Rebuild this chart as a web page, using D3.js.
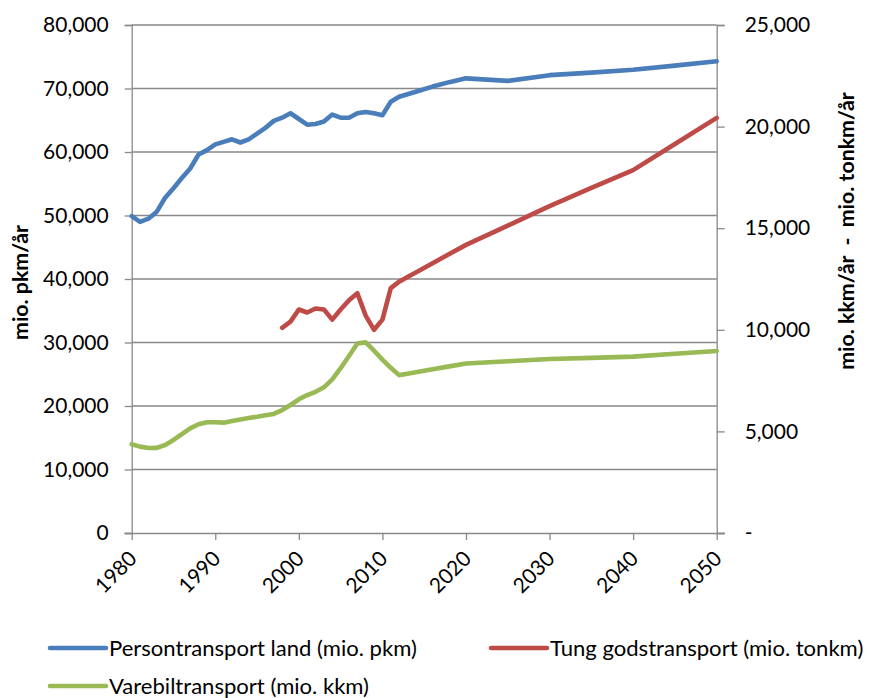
<!DOCTYPE html>
<html>
<head>
<meta charset="utf-8">
<script src="https://cdn.jsdelivr.net/npm/d3@7"></script>
<style>
  html, body { margin: 0; padding: 0; background: #fff; }
  svg { display: block; }
  text { font-family: Lato, "Open Sans", sans-serif; fill: #000; }
</style>
</head>
<body>
<svg id="chart" width="874" height="698"></svg>
<script>
// ---- data ----
const years = [1980,1981,1982,1983,1984,1985,1986,1987,1988,1989,
               1990,1991,1992,1993,1994,1995,1996,1997,1998,1999,
               2000,2001,2002,2003,2004,2005,2006,2007,2008,2009,
               2010,2011,2012,2013,2014,2016,2018,2020,2025,2030,
               2035,2040,2045,2050];

// left axis (mio. pkm)
const personValues = [49900,49000,49500,50600,52800,54300,55900,57400,59600,60300,
                      61200,61600,62000,61500,62000,62900,63800,64900,65400,66100,
                      65200,64300,64400,64800,65900,65400,65400,66100,66300,66100,
                      65800,67900,68700,69100,69500,70300,71000,71600,71200,72100,
                      72500,72950,73600,74300];

// right axis (mio. tonkm)
const godsValues = [null,null,null,null,null,null,null,null,null,null,
                    null,null,null,null,null,null,null,null,10100,10400,
                    11000,10850,11050,11000,10500,11000,11450,11800,10700,10000,
                    10500,12050,12370,12600,12820,13270,13730,14180,15130,16090,
                    16980,17860,19140,20430];

// right axis (mio. kkm)
const vareValues = [4370,4250,4180,4190,4330,4580,4870,5150,5350,5450,
                    5450,5430,5510,5590,5660,5720,5790,5860,6050,6300,
                    6580,6790,6950,7170,7560,8110,8710,9330,9380,8970,
                    8530,8130,7770,7840,7910,8060,8200,8340,8450,8560,
                    8620,8680,8820,8960];

const xTicks = [1980,1990,2000,2010,2020,2030,2040,2050];
const leftTicks = [0,10000,20000,30000,40000,50000,60000,70000,80000];
const rightTicks = [0,5000,10000,15000,20000,25000];

const seriesNames = ["Persontransport land (mio. pkm)",
                     "Tung godstransport (mio. tonkm)",
                     "Varebiltransport (mio. kkm)"];
const seriesColors = ["#4A7EBB", "#BE4B48", "#98B954"];

const leftTitle = "mio. pkm/år";
const rightTitle = "mio. kkm/år  -  mio. tonkm/år";

// ---- layout ----
const svg = d3.select("#chart");
const plot = { left: 131.7, right: 716.7, top: 25, bottom: 533 };
const axisColor = "#898989";

// fit font sizes to the reference's text widths
const meas = svg.append("text").attr("x", -1000).attr("y", -1000).style("font-size", "20px");
function fit(str, target, weight) {
  meas.style("font-weight", weight || "normal").text(str);
  const w = meas.node().getComputedTextLength();
  return 20 * target / w;
}
const tickSize = fit("80,000", 65.6);
const legendSize = fit(seriesNames[0], 308);
const titleSize = fit(leftTitle, 115, "bold");
meas.remove();

const x = d3.scaleLinear().domain([1980, 2050]).range([plot.left, plot.right]);
const yL = d3.scaleLinear().domain([0, 80000]).range([plot.bottom, plot.top]);
const yR = d3.scaleLinear().domain([0, 25000]).range([plot.bottom, plot.top]);

const fmt = d3.format(",");

// gridlines
svg.append("g").selectAll("line").data(leftTicks.filter(d => d > 0)).join("line")
  .attr("x1", plot.left).attr("x2", plot.right)
  .attr("y1", d => yL(d)).attr("y2", d => yL(d))
  .attr("stroke", axisColor).attr("stroke-width", 1.3);

// left axis
const gL = svg.append("g").attr("transform", `translate(${plot.left},0)`)
  .call(d3.axisLeft(yL).tickValues(leftTicks).tickFormat(fmt).tickSize(7).tickPadding(16));
gL.select(".domain").attr("stroke", axisColor).attr("stroke-width", 1.3);
gL.selectAll(".tick line").attr("stroke", axisColor).attr("stroke-width", 1.3);
gL.selectAll(".tick text").style("font-size", tickSize + "px").style("font-family", "Lato").attr("fill", "#000");

// right axis
const gR = svg.append("g").attr("transform", `translate(${plot.right},0)`)
  .call(d3.axisRight(yR).tickValues(rightTicks).tickFormat(d => d === 0 ? "-" : fmt(d)).tickSize(8).tickPadding(20));
gR.select(".domain").attr("stroke", axisColor).attr("stroke-width", 1.3);
gR.selectAll(".tick line").attr("stroke", axisColor).attr("stroke-width", 1.3);
gR.selectAll(".tick text").style("font-size", tickSize + "px").style("font-family", "Lato").attr("fill", "#000");

// bottom axis
const gB = svg.append("g").attr("transform", `translate(0,${plot.bottom})`)
  .call(d3.axisBottom(x).tickValues(xTicks).tickFormat(d3.format("d")).tickSize(7).tickSizeOuter(0));
gB.select(".domain").attr("stroke", axisColor).attr("stroke-width", 1.3)
  .attr("d", `M${plot.left - 7},0.5H${plot.right + 8}`);
gB.selectAll(".tick line").attr("stroke", axisColor).attr("stroke-width", 1.3);
gB.selectAll(".tick text")
  .style("font-size", tickSize + "px").style("font-family", "Lato").attr("fill", "#000")
  .attr("text-anchor", "end").attr("dy", null).attr("y", 0)
  .attr("transform", "translate(6,27) rotate(-45)");

// lines
const lineL = d3.line().defined(d => d[1] != null).x(d => x(d[0])).y(d => yL(d[1]));
const lineR = d3.line().defined(d => d[1] != null).x(d => x(d[0])).y(d => yR(d[1]));
const zip = vals => years.map((yr, i) => [yr, vals[i]]);

const lines = [
  { path: lineL(zip(personValues)), color: seriesColors[0] },
  { path: lineR(zip(godsValues)), color: seriesColors[1] },
  { path: lineR(zip(vareValues)), color: seriesColors[2] }
];
svg.append("g").selectAll("path").data(lines).join("path")
  .attr("d", d => d.path).attr("fill", "none")
  .attr("stroke", d => d.color).attr("stroke-width", 4.6)
  .attr("stroke-linejoin", "round").attr("stroke-linecap", "round");

// axis titles
svg.append("text")
  .attr("transform", `translate(28,${(225 + 340) / 2}) rotate(-90)`)
  .attr("text-anchor", "middle").style("font-weight", "bold")
  .style("font-size", titleSize + "px").text(leftTitle);
svg.append("text")
  .attr("transform", `translate(854,231) rotate(-90)`)
  .attr("text-anchor", "middle").style("font-weight", "bold")
  .style("white-space", "pre")
  .style("font-size", titleSize + "px").text(rightTitle);

// legend
const legendItems = [
  { x: 50, y: 648, i: 0 },
  { x: 491, y: 648, i: 1 },
  { x: 50, y: 686, i: 2 }
];
const lg = svg.append("g").selectAll("g").data(legendItems).join("g")
  .attr("transform", d => `translate(${d.x},${d.y})`);
lg.append("line").attr("x1", 0).attr("x2", 56).attr("y1", 0).attr("y2", 0)
  .attr("stroke", d => seriesColors[d.i]).attr("stroke-width", 4.6).attr("stroke-linecap", "round");
lg.append("text").attr("x", 59).attr("y", 0).attr("dy", "0.35em")
  .style("font-size", legendSize + "px").text(d => seriesNames[d.i]);
</script>
</body>
</html>
